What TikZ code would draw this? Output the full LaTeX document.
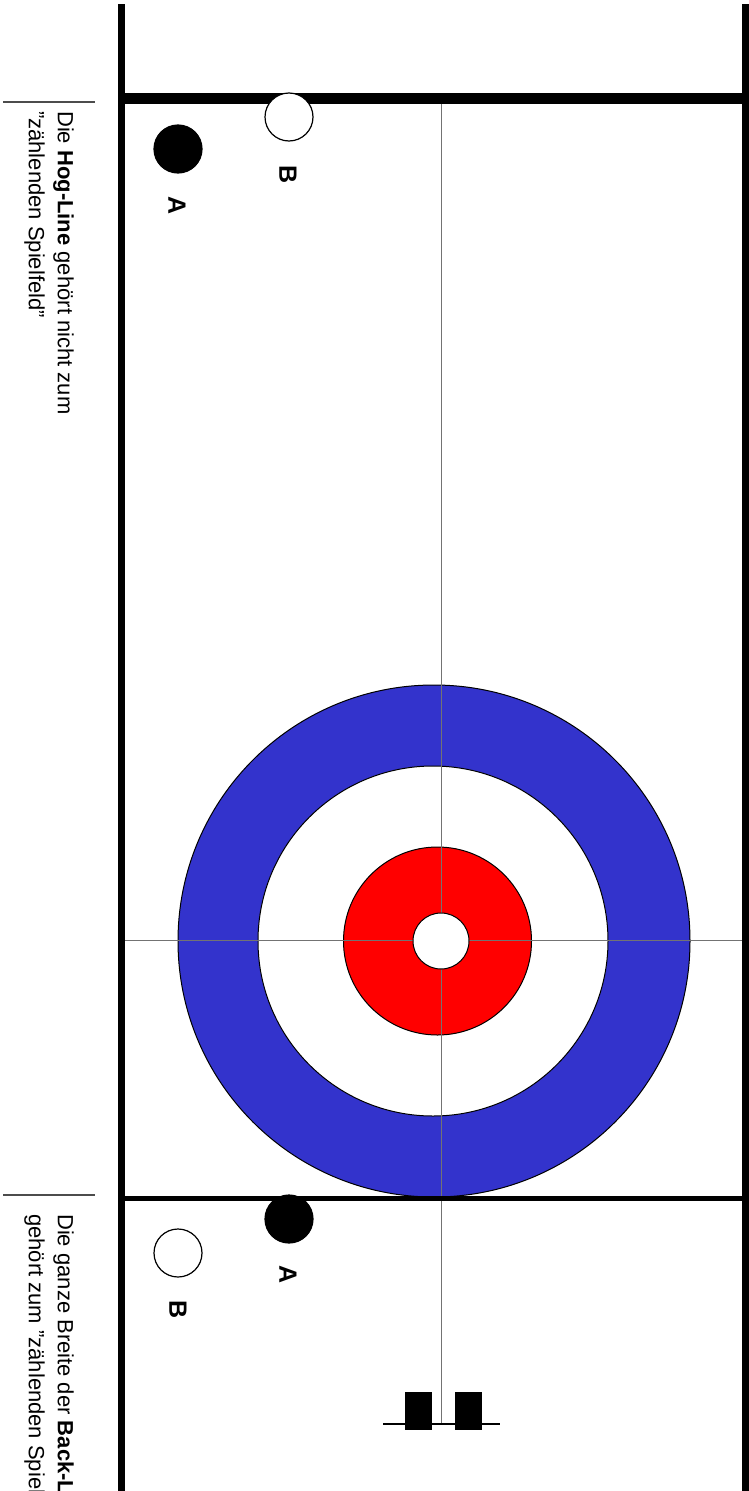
\documentclass[tikz,border=0pt]{standalone}
\usepackage{fontspec}
\setmainfont{Liberation Sans}
\usetikzlibrary{positioning}
\definecolor{ringblue}{RGB}{51,51,204}
\definecolor{ringred}{RGB}{255,0,0}

\begin{document}
\begin{tikzpicture}[x=1pt, y=-1pt,
    ring/.style={draw, circle, line width=1pt, inner sep=0pt},
    stone/.style={draw, circle, line width=1.2pt, inner sep=0pt, minimum size=48pt},
    stonelabel/.style={rotate=-90, inner sep=0pt, font=\bfseries\fontsize{25}{30}\selectfont},
    note/.style={rotate=-90, align=left, inner sep=0pt, anchor=north west, font=\fontsize{22}{29}\selectfont},
    hack/.style={fill=black, inner sep=0pt, minimum width=27pt, minimum height=38pt},
    thinline/.style={black!55, line width=0.9pt}]
  \useasboundingbox (0,0) rectangle (748,1491);
  % house
  \node[ring, fill=ringblue, minimum size=512] (twelve) at (434,941) {};
  \node[ring, fill=white, minimum size=350] (eight) at (433,941) {};
  \node[ring, fill=ringred, minimum size=188] (four) at (437.5,941) {};
  % sheet lines
  \coordinate (teeL) at (121,940);
  \coordinate (teeR) at (748,940);
  \coordinate (centerT) at (441,104);
  \coordinate (centerB) at (441,1424);
  \draw[thinline] (teeL) -- (teeR);
  \draw[thinline] (centerT) -- (centerB);
  \node[ring, fill=white, minimum size=56] (button) at (441,941) {};
  \draw[line width=11pt] (121,98.5) -- (748,98.5);
  \draw[line width=5pt] (121,1198) -- (748,1198);
  \draw[line width=7pt] (121,4) -- (121,1491);
  \draw[line width=7pt] (745,4) -- (745,1491);
  % hacks
  \coordinate (hackLineL) at (383,1424);
  \coordinate (hackLineR) at (500,1424);
  \draw[line width=1.3pt] (hackLineL) -- (hackLineR);
  \node[hack] (hackL) at (418.5,1411) {};
  \node[hack] (hackR) at (468.5,1411) {};
  % stones at the hog line
  \node[stone, fill=white] (hogB) at (289,117) {};
  \node[stone, fill=black] (hogA) at (178,149) {};
  \node[stonelabel] (hogBlabel) at (288,175) {B};
  \node[stonelabel] (hogAlabel) at (177,206) {A};
  % stones at the back line
  \node[stone, fill=black] (backA) at (289,1219) {};
  \node[stone, fill=white] (backB) at (178,1253) {};
  \node[stonelabel] (backAlabel) at (288,1275) {A};
  \node[stonelabel] (backBlabel) at (178,1310) {B};
  % notes
  \draw[black!70, line width=1.3pt] (3,102) -- (95,102);
  \node[note] (hognote) at (74,111) {Die \textbf{Hog-Line} gehört nicht zum\\"zählenden Spielfeld"};
  \draw[black!70, line width=1.3pt] (3,1195) -- (95,1195);
  \node[note] (backnote) at (74,1214) {Die ganze Breite der \textbf{Back-Line}\\gehört zum "zählenden Spielfeld"};
\end{tikzpicture}
\end{document}
